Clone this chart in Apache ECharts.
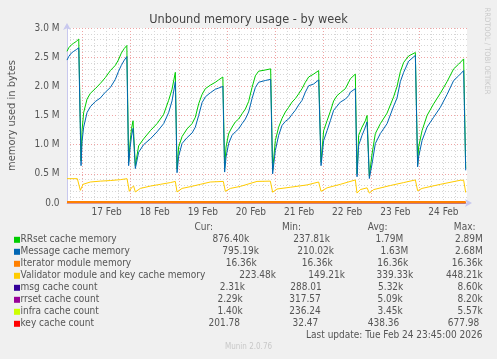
<!DOCTYPE html>
<html><head><meta charset="utf-8">
<script src="https://cdn.jsdelivr.net/npm/echarts@6/dist/echarts.min.js"></script>
<style>html,body{margin:0;padding:0;background:#f0f0f0;}#c{width:497px;height:359px;}</style>
</head><body><div id="c"></div>
<script>
// ---- DATA (x = hours relative to 17 Feb 2026 00:00, values in millions of bytes) ----
const hours = [
-7.75,-6.9,-5.6,-4.4,-3.1,-1.9,-1.5,
-0.75,-0.25,0.55,2.24,3.89,6.38,8.88,11.37,13.87,16.36,17.86,19.35,20.85,22.09,
22.99,23.74,24.44,25.19,
26.33,27.98,30.47,33.82,37.16,40.45,42.94,44.64,46.28,
47.13,47.93,49.63,52.12,54.61,56.26,57.91,59.6,61.25,63.74,66.23,67.88,69.98,
70.87,71.57,72.87,74.56,76.21,77.86,79.55,81.2,82.84,84.54,86.18,87.83,91.17,93.82,
94.81,96.16,97.81,99.5,101.15,102.79,104.49,106.13,107.78,109.48,111.12,112.77,115.26,117.76,
118.95,120.25,121.95,123.59,125.24,126.93,128.58,131.07,132.72,133.57,136.06,
136.91,137.71,139.4,141.05,141.9,
143.04,144.39,146.03,148.53,151.87,155.16,156.86,158.5,160.15,162.64,165.99,
167.13,167.63,169.33,171.82,175.11,178.45,181.8,185.09,187.58,190.08,191.1
];
const rrsetMem = [
2.60,2.66,2.71,2.74,2.77,2.81,2.84,
0.72,1.24,1.55,1.78,1.88,1.96,2.05,2.15,2.27,2.36,2.45,2.57,2.65,2.70,
0.70,1.05,1.28,1.41,
0.64,0.98,1.10,1.24,1.36,1.52,1.76,1.95,2.24,
0.58,0.96,1.14,1.27,1.36,1.47,1.70,1.86,1.96,2.02,2.07,2.11,2.16,
0.60,0.96,1.19,1.30,1.39,1.44,1.53,1.61,1.74,1.98,2.18,2.26,2.28,2.30,
0.56,1.07,1.30,1.45,1.56,1.64,1.73,1.79,1.87,1.96,2.07,2.16,2.21,2.27,
0.70,1.24,1.41,1.57,1.75,1.84,1.89,1.96,2.07,2.13,2.21,
0.50,1.16,1.30,1.41,1.50,
0.46,0.84,1.19,1.36,1.54,1.82,2.00,2.25,2.41,2.52,2.58,
0.66,0.96,1.24,1.50,1.70,1.88,2.08,2.30,2.38,2.47,0.60
];
const msgMem = [
2.45,2.51,2.57,2.60,2.63,2.66,2.67,
0.64,1.05,1.30,1.55,1.65,1.74,1.80,1.90,1.98,2.12,2.25,2.36,2.45,2.51,
0.64,0.95,1.15,1.28,
0.59,0.87,1.00,1.10,1.22,1.36,1.55,1.75,2.08,
0.52,0.80,1.02,1.12,1.20,1.30,1.50,1.72,1.82,1.89,1.95,1.97,2.00,
0.53,0.79,1.02,1.16,1.22,1.27,1.36,1.44,1.56,1.79,1.98,2.07,2.10,2.12,
0.50,0.90,1.16,1.33,1.40,1.44,1.52,1.59,1.68,1.76,1.90,2.01,2.04,2.11,
0.64,1.07,1.24,1.41,1.59,1.66,1.73,1.78,1.84,1.90,1.96,
0.45,0.99,1.16,1.30,1.39,
0.42,0.67,1.02,1.19,1.36,1.66,1.80,2.08,2.24,2.43,2.53,
0.62,0.79,1.07,1.30,1.47,1.64,1.86,2.10,2.18,2.27,0.56
];
const valHours = [-7.75,-2.59,-1.1,0.25,3.89,8.88,13.87,18.85,22.19,23.34,24.34,25.49,26.33,28.83,33.82,38.8,43.79,46.28,47.13,49.63,53.77,58.75,63.74,70.22,71.22,73.72,78.7,87.03,93.67,94.81,97.0,103.64,111.97,117.76,118.95,121.95,128.58,136.06,136.91,138.55,141.9,143.04,145.19,153.52,160.15,165.99,167.13,169.33,178.45,188.43,190.08,191.1];
const validatorMem = [0.417,0.417,0.217,0.32,0.36,0.375,0.385,0.40,0.417,0.20,0.26,0.29,0.19,0.25,0.29,0.32,0.35,0.37,0.19,0.25,0.28,0.32,0.36,0.37,0.20,0.25,0.285,0.37,0.375,0.185,0.24,0.27,0.31,0.36,0.20,0.26,0.32,0.395,0.17,0.23,0.26,0.17,0.23,0.30,0.35,0.395,0.21,0.25,0.32,0.39,0.39,0.18];
const flatHours = [-7.75, 191.1];
const iteratorMem = [0.01636, 0.01636];
const msgCount = [8600, 2310];     // raw counts
const rrsetCount = [8200, 2290];
const infraCount = [5570, 1400];
const keyCount = [678, 202];

const dayLabels = ['17 Feb','18 Feb','19 Feb','20 Feb','21 Feb','22 Feb','23 Feb','24 Feb'];
const yTicks = [0, 0.5, 1.0, 1.5, 2.0, 2.5, 3.0];

const legendNames = ['RRset cache memory','Message cache memory','Iterator module memory','Validator module and key cache memory','msg cache count','rrset cache count','infra cache count','key cache count'];
const curText = ['876.40k','795.19k','16.36k','223.48k','2.31k','2.29k','1.40k','201.78'];
const minText = ['237.81k','210.02k','16.36k','149.21k','288.01','317.57','236.24','32.47'];
const avgText = ['1.79M','1.63M','16.36k','339.33k','5.32k','5.09k','3.45k','438.36'];
const maxText = ['2.89M','2.68M','16.36k','448.21k','8.60k','8.20k','5.57k','677.98'];
const lastUpdate = 'Last update: Tue Feb 24 23:45:00 2026';

// ---- STYLE / LAYOUT ----
const COLORS = ['#00CC00','#0066B3','#FF8000','#FFCC00','#330099','#990099','#CCFF00','#FF0000'];
const FONT = "'DejaVu Sans Condensed','Noto Sans',sans-serif";
const TXT = '#555';
const colCurR = [249.3,259,256.7,276,245,242.7,242.7,240];
const colMinR = [330,334,332.7,345,321.7,320.7,320.7,318.3];
const colAvgR = [403.3,408.3,408.3,413.3,403.3,402.7,402.7,399.3];
const colMaxR = [482.7,482.7,482.7,482.7,482.7,482.7,482.7,479.3];

const X_MIN = -7.75, X_MAX = 191.75;

const pairs = (xs, ys, k) => xs.map((x, i) => [x, ys[i] * (k || 1)]);

// vertical grid via markLines
const majorLines = [], minorLines = [];
for (let h = -6; h <= X_MAX; h += 6) {
  if (h < X_MIN) continue;
  if (h % 24 === 0) majorLines.push({xAxis: h});
  else minorLines.push({xAxis: h});
}
const labelLines = dayLabels.map((d, i) => ({xAxis: 12 + 24 * i, name: d}));

const lineSeries = (name, data, color, z, width) => ({
  name, type: 'line', data, showSymbol: false, symbol: 'none', z: z,
  lineStyle: {color, width: width || 1}, itemStyle: {color}, animation: false, silent: true, clip: true
});

const graphics = [];
const textEl = (text, x, y, align, extra) => Object.assign({
  type: 'text', x, y, silent: true,
  style: Object.assign({text, fill: TXT, font: '10px ' + FONT, textAlign: align || 'left', textVerticalAlign: 'middle'}, extra || {})
});
[['Cur:', 213], ['Min:', 301], ['Avg:', 387.5], ['Max:', 475.5]].forEach(([t, r]) => graphics.push(textEl(t, r, 227, 'right')));
legendNames.forEach((n, i) => {
  const y = 239.3 + 12 * i;
  graphics.push({type: 'rect', silent: true, shape: {x: 14, y: y - 2.5, width: 6, height: 6}, style: {fill: COLORS[i]}});
  graphics.push(textEl(n, 20.5, y, 'left'));
  graphics.push(textEl(curText[i], colCurR[i], y, 'right'));
  graphics.push(textEl(minText[i], colMinR[i], y, 'right'));
  graphics.push(textEl(avgText[i], colAvgR[i], y, 'right'));
  graphics.push(textEl(maxText[i], colMaxR[i], y, 'right'));
});
graphics.push(textEl(lastUpdate, 482.5, 335.3, 'right'));
graphics.push(textEl('Munin 2.0.76', 248.5, 347, 'center', {fill: '#c8c8c8', font: '8px ' + FONT}));
graphics.push({type: 'text', x: 487, y: 51, rotation: -Math.PI / 2, silent: true,
  style: {text: 'RRDTOOL / TOBI OETIKER', fill: '#c8c8c8', font: '7.5px ' + FONT, textAlign: 'center', textVerticalAlign: 'middle'}});

const option = {
  animation: false,
  backgroundColor: '#f0f0f0',
  textStyle: {fontFamily: FONT},
  title: {text: 'Unbound memory usage - by week', left: 'center', top: 13.5, padding: 0,
    textStyle: {fontSize: 12.6, fontWeight: 'normal', color: '#444', fontFamily: FONT}},
  grid: {left: 67, right: 30, top: 28, bottom: 156, show: true, backgroundColor: '#ffffff', borderWidth: 0,
    containLabel: false, outerBoundsMode: 'none'},
  xAxis: {type: 'value', min: X_MIN, max: X_MAX,
    axisLine: {show: true, onZero: false, symbol: ['none', 'arrow'], symbolSize: [6, 7], symbolOffset: [0, 5],
      lineStyle: {color: '#c8c8ee', width: 1}},
    axisTick: {show: false}, axisLabel: {show: false}, splitLine: {show: false}},
  yAxis: {type: 'value', min: 0, max: 3, interval: 0.5,
    name: 'memory used in bytes', nameLocation: 'middle', nameGap: 49, nameRotate: 90,
    nameTextStyle: {fontSize: 11, color: TXT, fontFamily: FONT},
    axisLine: {show: true, onZero: false, symbol: ['none', 'arrow'], symbolSize: [6, 7], symbolOffset: [0, 5],
      lineStyle: {color: '#c8c8ee', width: 1}},
    axisTick: {show: false},
    axisLabel: {margin: 7.5, fontSize: 10, color: TXT, fontFamily: FONT,
      formatter: v => (yTicks.indexOf(v) >= 0 ? (v === 0 ? '0.0' : v.toFixed(1) + ' M') : '')},
    splitLine: {show: true, lineStyle: {color: '#efa5a5', width: 1, type: [1, 2]}},
    minorTick: {show: false, splitNumber: 5},
    minorSplitLine: {show: true, lineStyle: {color: '#d6d6d6', width: 1, type: [1, 2]}}},
  graphic: graphics,
  series: [
    {type: 'line', data: [], silent: true, z: 1,
      markLine: {silent: true, symbol: ['none', 'none'], z: 1, animation: false, label: {show: false},
        lineStyle: {color: '#d6d6d6', width: 1, type: [1, 2]}, data: minorLines}},
    {type: 'line', data: [], silent: true, z: 1,
      markLine: {silent: true, symbol: ['none', 'none'], z: 1, animation: false, label: {show: false},
        lineStyle: {color: '#efa5a5', width: 1, type: [1, 2]}, data: majorLines}},
    {type: 'line', data: [], silent: true, z: 1, clip: false,
      markLine: {silent: true, symbol: ['none', 'none'], z: 1, animation: false,
        lineStyle: {color: 'rgba(0,0,0,0)', width: 1},
        label: {show: true, position: 'start', distance: 4, formatter: '{b}', color: TXT, fontSize: 10, fontFamily: FONT},
        data: labelLines}},
    lineSeries(legendNames[0], pairs(hours, rrsetMem), COLORS[0], 10),
    lineSeries(legendNames[1], pairs(hours, msgMem), COLORS[1], 11),
    lineSeries(legendNames[3], pairs(valHours, validatorMem), COLORS[3], 12),
    lineSeries(legendNames[4], pairs(flatHours, msgCount, 1e-6), COLORS[4], 12),
    lineSeries(legendNames[5], pairs(flatHours, rrsetCount, 1e-6), COLORS[5], 12),
    lineSeries(legendNames[6], pairs(flatHours, infraCount, 1e-6), COLORS[6], 12),
    lineSeries(legendNames[7], pairs(flatHours, keyCount, 1e-6), COLORS[7], 12),
    lineSeries(legendNames[2], pairs(flatHours, iteratorMem), COLORS[2], 13, 2)
  ]
};
const chart = echarts.init(document.getElementById('c'), null, {renderer: 'canvas'});
chart.setOption(option);
</script></body></html>
